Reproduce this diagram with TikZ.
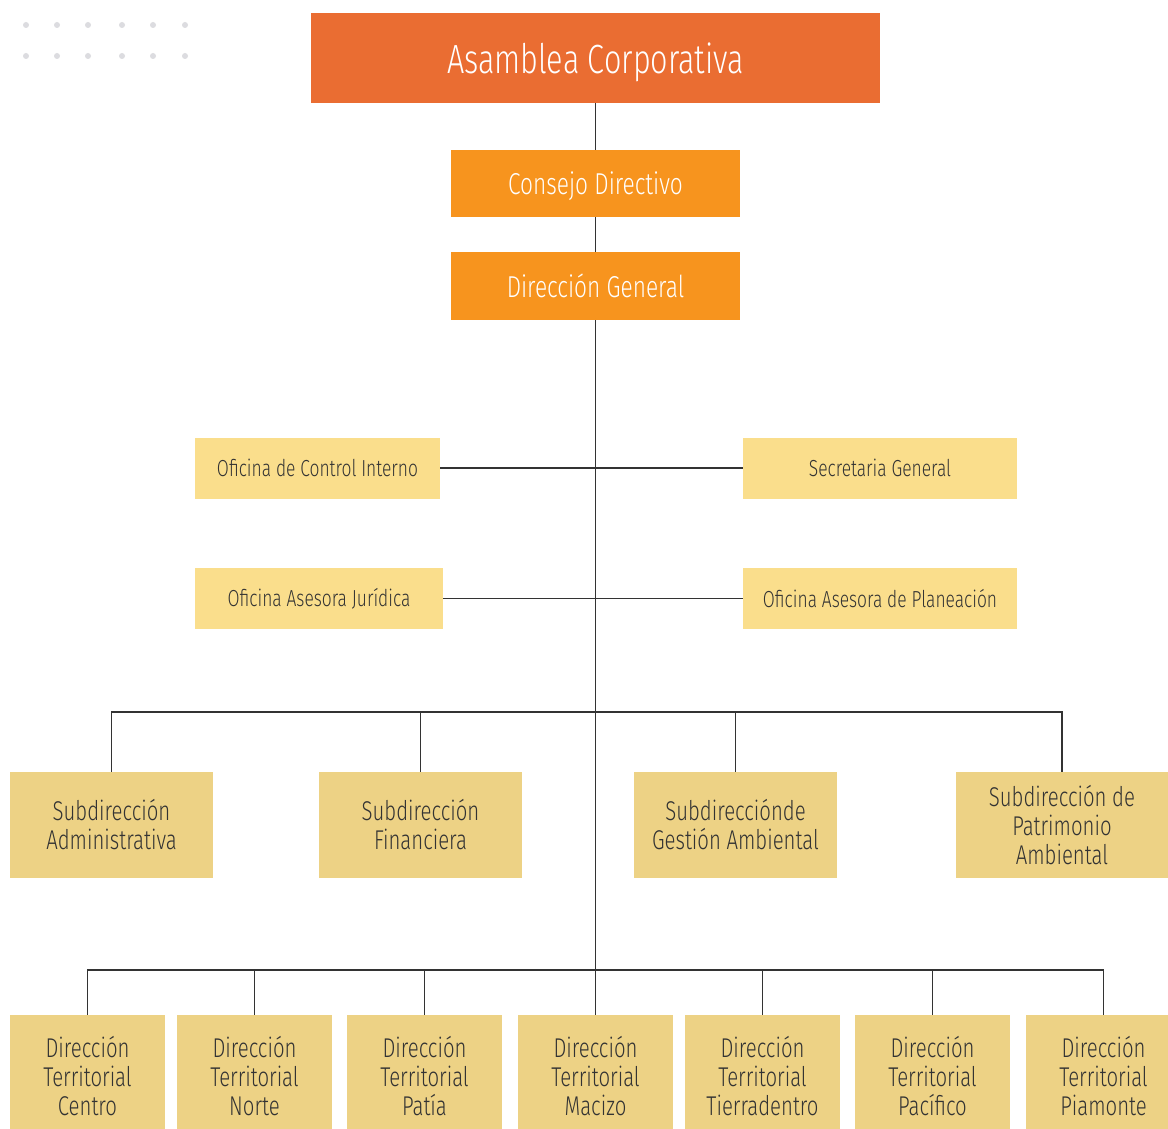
\documentclass[tikz,border=0pt]{standalone}
\usepackage{fontspec}
\setmainfont{Fira Sans Light}[FakeStretch=0.75]
\usetikzlibrary{positioning}
\definecolor{asambleacolor}{HTML}{EA6D32}
\definecolor{consejocolor}{HTML}{F7941E}
\definecolor{oficinacolor}{HTML}{FADE8C}
\definecolor{subcolor}{HTML}{EDD285}
\definecolor{linecolor}{HTML}{333333}
\definecolor{dotcolor}{HTML}{DCDCE0}
\tikzset{
  top box/.style={fill=asambleacolor, text=white, minimum width=142.25mm, minimum height=22.5mm,
    text depth=0pt, font=\fontsize{29}{33}\selectfont},
  head box/.style={fill=consejocolor, text=white, minimum width=72.25mm, minimum height=17mm,
    text depth=0pt, font=\fontsize{21.5}{25}\selectfont},
  office box/.style={fill=oficinacolor, text=linecolor, minimum height=15.25mm,
    font=\fontsize{16.5}{19}\selectfont},
  sub box/.style={fill=subcolor, text=linecolor, minimum width=50.75mm, minimum height=26.5mm,
    align=center, font=\fontsize{19.3}{20.6}\selectfont},
  terr box/.style={fill=subcolor, text=linecolor, minimum width=38.75mm, minimum height=30.5mm,
    align=center, font=\fontsize{19.3}{20.6}\selectfont},
  link/.style={draw=linecolor, line width=1.1pt}
}
\begin{document}
\begin{tikzpicture}[x=0.25mm,y=-0.25mm]
    \path[use as bounding box, clip] (0,0) rectangle (1168,1129);
    \fill[white] (0,0) rectangle (1168,1129);
    % dots
    \foreach \dx in {26,57,88,122,153,185}
        \foreach \dy in {25,56}
            \fill[dotcolor] (\dx,\dy) circle (3);
    % top
    \node[top box] (asamblea) at (595.5,58) {Asamblea Corporativa};
    \node[head box, minimum height=16.75mm] (consejo) at (595.5,183.5) {Consejo Directivo};
    \node[head box] (direccion) at (595.5,286) {Dirección General};
    % oficinas
    \node[office box, minimum width=61.25mm] (control) at (317.5,468) {Oficina de Control Interno};
    \node[office box, minimum width=68.5mm] (secretaria) at (880,468) {Secretaria General};
    \node[office box, minimum width=62mm] (juridica) at (319,598.5) {Oficina Asesora Jurídica};
    \node[office box, minimum width=68.5mm] (planeacion) at (880,598.5) {Oficina Asesora de Planeación};
    % subdirecciones
    \node[sub box] (administrativa) at (111.5,825) {Subdirección\\Administrativa};
    \node[sub box] (financiera) at (420.5,825) {Subdirección\\Financiera};
    \node[sub box] (gestion) at (735.5,825) {Subdirecciónde\\Gestión Ambiental};
    \node[sub box, minimum width=53mm] (patrimonio) at (1062,825) {Subdirección de\\Patrimonio\\Ambiental};
    % territoriales
    \node[terr box] (centro) at (87.5,1076) {Dirección\\Territorial\\Centro};
    \node[terr box] (norte) at (254.5,1076) {Dirección\\Territorial\\Norte};
    \node[terr box] (patia) at (424.5,1076) {Dirección\\Territorial\\Patía};
    \node[terr box] (macizo) at (595.5,1076) {Dirección\\Territorial\\Macizo};
    \node[terr box] (tierradentro) at (762.5,1076) {Dirección\\Territorial\\Tierradentro};
    \node[terr box] (pacifico) at (932.5,1076) {Dirección\\Territorial\\Pacífico};
    \node[terr box] (piamonte) at (1103.5,1076) {Dirección\\Territorial\\Piamonte};
    \coordinate (subbus) at (595.5,712);
    \coordinate (terrbus) at (595.5,970);
    % lines
    \draw[link] (asamblea) -- (consejo);
    \draw[link] (consejo) -- (direccion);
    \draw[link] (direccion) -- (macizo);
    \draw[link] (control) -- (secretaria);
    \draw[link] (juridica) -- (planeacion);
    \draw[link] (administrativa.north) |- (subbus) -| (patrimonio.north);
    \draw[link] (financiera.north) -- (financiera.north |- subbus);
    \draw[link] (gestion.north) -- (gestion.north |- subbus);
    \draw[link] (centro.north) |- (terrbus) -| (piamonte.north);
    \foreach \t in {norte,patia,tierradentro,pacifico}
        \draw[link] (\t.north) -- (\t.north |- terrbus);
\end{tikzpicture}
\end{document}
